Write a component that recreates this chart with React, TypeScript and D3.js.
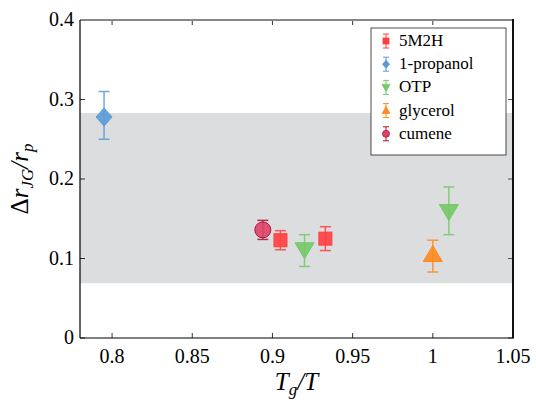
import * as d3 from "d3";

// Data
const series = ["5M2H", "1-propanol", "OTP", "glycerol", "cumene"];
const colors = ["#ff3f3f", "#5a9bd6", "#74c968", "#ff8a1c", "#de4468"];
const edges = ["#ff3f3f", "#5a9bd6", "#74c968", "#ff8a1c", "#a8173c"];
const symbols = ["square", "diamond", "triangleDown", "triangleUp", "circle"];

const pointSeries = ["cumene", "5M2H", "OTP", "5M2H", "1-propanol", "OTP", "glycerol"];
const pointX = [0.894, 0.905, 0.92, 0.933, 0.795, 1.01, 1.0];
const pointY = [0.136, 0.123, 0.111, 0.125, 0.278, 0.159, 0.105];
const errLow = [0.124, 0.111, 0.09, 0.11, 0.25, 0.13, 0.083];
const errHigh = [0.148, 0.135, 0.13, 0.14, 0.31, 0.19, 0.123];

const bandRange = [0.069, 0.283];
const xTicks = [0.8, 0.85, 0.9, 0.95, 1, 1.05];
const yTicks = [0, 0.1, 0.2, 0.3, 0.4];

const W = 536;
const H = 406;
const margin = { top: 20, right: 23, bottom: 68, left: 80 };
const font = '"Times New Roman", Times, "Liberation Serif", "DejaVu Serif", "Noto Serif", serif';

function Marker({ kind, cx, cy, fill, stroke }: { kind: string; cx: number; cy: number; fill: string; stroke: string }) {
	const common = { fill, stroke, strokeWidth: 1, fillOpacity: 0.9 };
	if (kind === "square") return <rect x={cx - 6.5} y={cy - 6.5} width={13} height={13} {...common} />;
	if (kind === "circle") return <circle cx={cx} cy={cy} r={8} {...common} />;
	if (kind === "diamond")
		return <path d={`M${cx},${cy - 9}L${cx + 8},${cy}L${cx},${cy + 9}L${cx - 8},${cy}Z`} {...common} />;
	if (kind === "triangleDown")
		return <path d={`M${cx - 9.5},${cy - 7}L${cx + 9.5},${cy - 7}L${cx},${cy + 9}Z`} {...common} />;
	return <path d={`M${cx - 9.5},${cy + 7}L${cx + 9.5},${cy + 7}L${cx},${cy - 9}Z`} {...common} />;
}

function LegendMarker({ kind, cx, cy, fill, stroke }: { kind: string; cx: number; cy: number; fill: string; stroke: string }) {
	const common = { fill, stroke, strokeWidth: 0.8 };
	if (kind === "square") return <rect x={cx - 3} y={cy - 3} width={6} height={6} {...common} />;
	if (kind === "circle") return <circle cx={cx} cy={cy} r={3.5} {...common} />;
	if (kind === "diamond")
		return <path d={`M${cx},${cy - 4}L${cx + 3.5},${cy}L${cx},${cy + 4}L${cx - 3.5},${cy}Z`} {...common} />;
	if (kind === "triangleDown")
		return <path d={`M${cx - 4},${cy - 3}L${cx + 4},${cy - 3}L${cx},${cy + 4}Z`} {...common} />;
	return <path d={`M${cx - 4},${cy + 3}L${cx + 4},${cy + 3}L${cx},${cy - 4}Z`} {...common} />;
}

export default function App() {
	const x = d3.scaleLinear().domain([0.78, 1.05]).range([margin.left, W - margin.right]);
	const y = d3.scaleLinear().domain([0, 0.4]).range([H - margin.bottom, margin.top]);
	const x0 = x.range()[0];
	const x1 = x.range()[1];
	const y0 = y.range()[0];
	const y1 = y.range()[1];

	return (
		<div style={{ position: "fixed", left: 0, top: 0, fontFamily: font }}>
			<svg width={W} height={H} style={{ display: "block", background: "#fff", fontFamily: font }}>
				{/* shaded band */}
				<rect x={x0} y={y(bandRange[1])} width={x1 - x0} height={y(bandRange[0]) - y(bandRange[1])} fill="#dcdddf" />

				{/* error bars and markers */}
				{pointX.map((px, i) => {
					const si = series.indexOf(pointSeries[i]);
					const cx = x(px);
					const c = edges[si];
					return (
						<g key={i}>
							<g stroke={c} strokeWidth={1.5} opacity={0.85}>
								<line x1={cx} x2={cx} y1={y(errLow[i])} y2={y(errHigh[i])} />
								<line x1={cx - 5.5} x2={cx + 5.5} y1={y(errLow[i])} y2={y(errLow[i])} />
								<line x1={cx - 5.5} x2={cx + 5.5} y1={y(errHigh[i])} y2={y(errHigh[i])} />
							</g>
							<Marker kind={symbols[si]} cx={cx} cy={y(pointY[i])} fill={colors[si]} stroke={edges[si]} />
						</g>
					);
				})}

				{/* ticks */}
				{xTicks.map((t) => (
					<g key={t}>
						<line x1={x(t)} x2={x(t)} y1={y0} y2={y0 - 5} stroke="#000" strokeWidth={0.8} />
						<line x1={x(t)} x2={x(t)} y1={y1} y2={y1 + 5} stroke="#000" strokeWidth={0.8} />
						<text x={x(t)} y={y0 + 25} fontSize={20} textAnchor="middle">
							{t}
						</text>
					</g>
				))}
				{yTicks.map((t) => (
					<g key={t}>
						<line x1={x0} x2={x0 + 5} y1={y(t)} y2={y(t)} stroke="#000" strokeWidth={0.8} />
						<line x1={x1} x2={x1 - 5} y1={y(t)} y2={y(t)} stroke="#555" strokeWidth={1} />
						<text x={x0 - 6} y={y(t) + 6} fontSize={20} textAnchor="end">
							{t}
						</text>
					</g>
				))}

				{/* spines */}
				<line x1={x0} x2={x1} y1={y1} y2={y1} stroke="#888" strokeWidth={2} />
				<line x1={x1} x2={x1} y1={y1 - 1} y2={y0} stroke="#111" strokeWidth={2} />
				<line x1={x0} x2={x1 + 1} y1={y0} y2={y0} stroke="#000" strokeWidth={1.2} />
				<line x1={x0} x2={x0} y1={y1} y2={y0} stroke="#000" strokeWidth={1.2} />

				{/* legend */}
				<rect x={371} y={28} width={135} height={127} fill="#fff" stroke="#222" strokeWidth={0.8} />
				{series.map((s, i) => {
					const ly = 41 + i * 23.2;
					const lx = 386;
					return (
						<g key={s}>
							<g stroke={edges[i]} strokeWidth={1}>
								<line x1={lx} x2={lx} y1={ly - 7} y2={ly + 7} />
								<line x1={lx - 3} x2={lx + 3} y1={ly - 7} y2={ly - 7} />
								<line x1={lx - 3} x2={lx + 3} y1={ly + 7} y2={ly + 7} />
							</g>
							<LegendMarker kind={symbols[i]} cx={lx} cy={ly} fill={colors[i]} stroke={edges[i]} />
							<text x={399} y={ly + 5} fontSize={17}>
								{s}
							</text>
						</g>
					);
				})}

				{/* axis labels */}
				<text x={(x0 + x1) / 2} y={390} fontSize={25} textAnchor="middle" fontStyle="italic">
					T<tspan fontSize={17} dy={5}>g</tspan>
					<tspan dy={-5}>/T</tspan>
				</text>
				<text transform={`translate(28,${(y0 + y1) / 2}) rotate(-90)`} fontSize={25} textAnchor="middle">
					Δ<tspan fontStyle="italic">r</tspan>
					<tspan fontStyle="italic" fontSize={17} dy={5}>JG</tspan>
					<tspan dy={-5} fontStyle="italic">/r</tspan>
					<tspan fontStyle="italic" fontSize={17} dy={5}>p</tspan>
				</text>
			</svg>
		</div>
	);
}
